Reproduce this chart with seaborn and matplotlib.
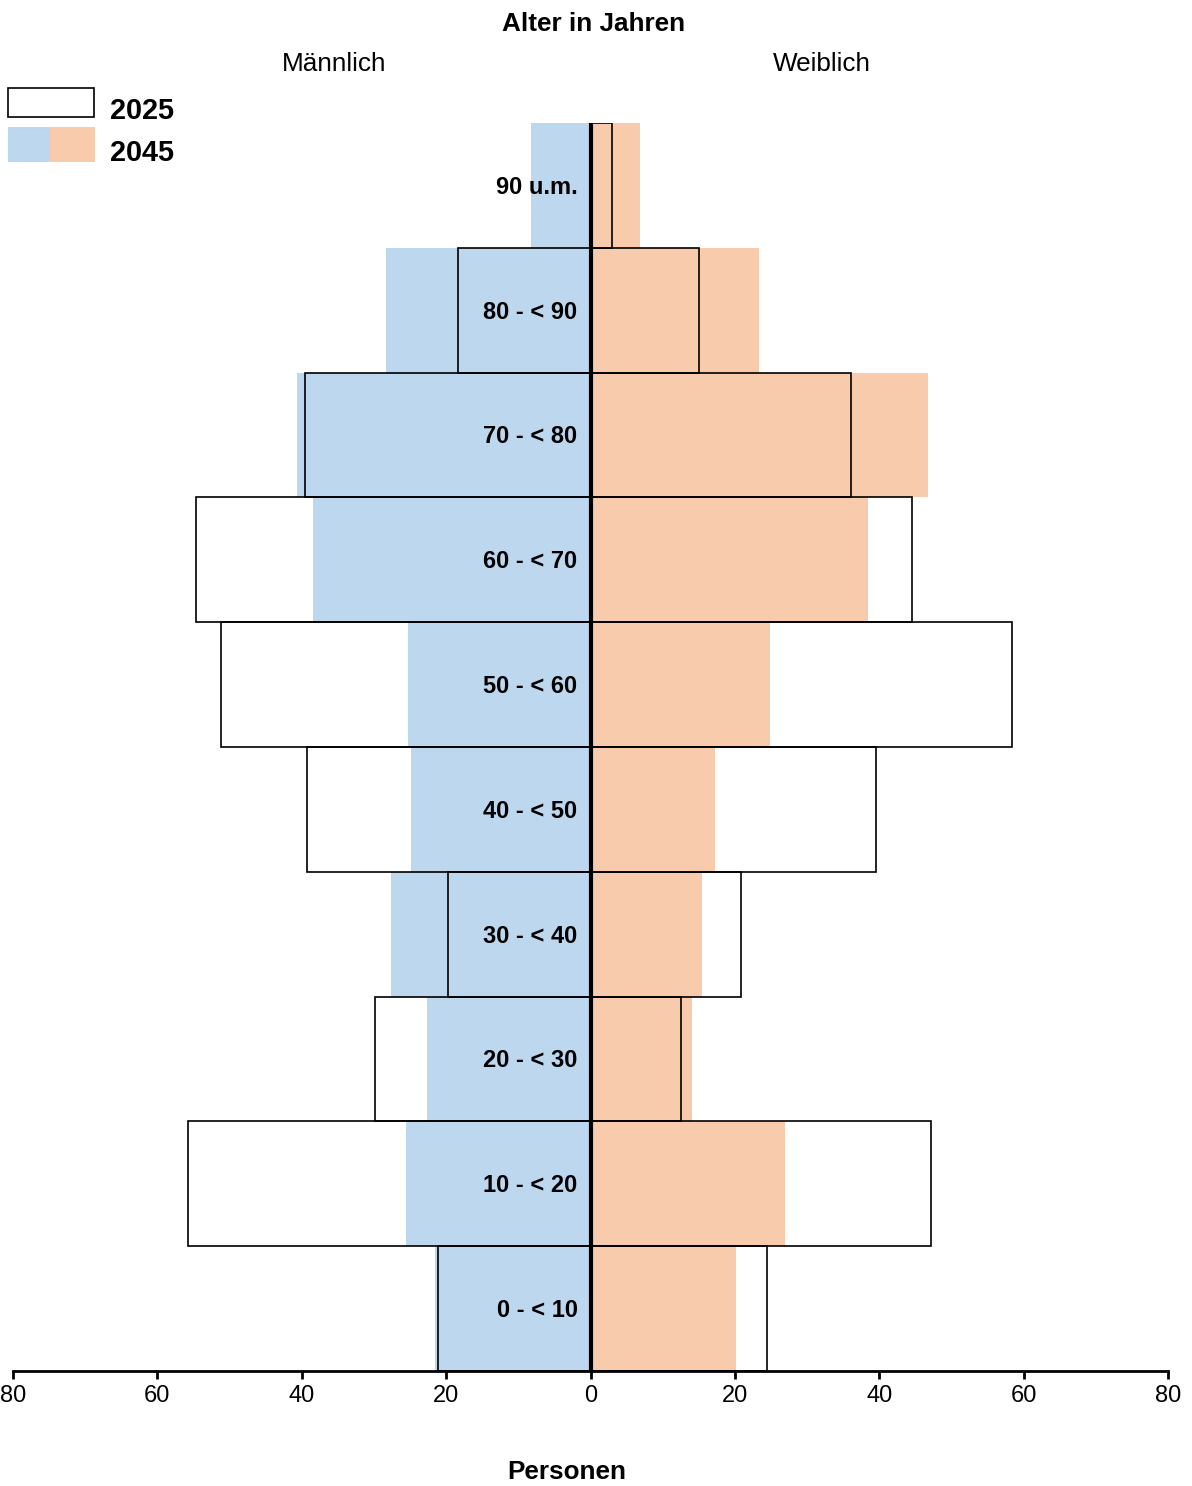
import matplotlib
matplotlib.use("Agg")
import matplotlib.pyplot as plt
from matplotlib.patches import Rectangle
import seaborn as sns
import numpy as np
import pandas as pd

categories = ["90 u.m.", "80 - < 90", "70 - < 80", "60 - < 70", "50 - < 60",
              "40 - < 50", "30 - < 40", "20 - < 30", "10 - < 20", "0 - < 10"]
male_2025 = [0.0, 18.4, 39.6, 54.7, 51.2, 39.3, 19.8, 29.8, 55.7, 21.1]
male_2045 = [8.2, 28.3, 40.6, 38.5, 25.3, 24.9, 27.7, 22.7, 25.5, 21.6]
female_2025 = [3.0, 15.0, 36.1, 44.5, 58.4, 39.5, 20.8, 12.5, 47.2, 24.5]
female_2045 = [6.9, 23.4, 46.8, 38.4, 24.9, 17.2, 15.4, 14.0, 26.9, 20.1]
xticks = [-80, -60, -40, -20, 0, 20, 40, 60, 80]
xticklabels = ["80", "60", "40", "20", "0", "20", "40", "60", "80"]

BLUE = "#BDD7EE"
ORANGE = "#F8CBAD"

sns.set_theme(style="white")
plt.rcParams["font.family"] = ["Liberation Sans", "DejaVu Sans"]
plt.rcParams["text.color"] = "black"
plt.rcParams["axes.labelcolor"] = "black"
plt.rcParams["xtick.color"] = "black"

W, H = 1192, 1486
fig = plt.figure(figsize=(W / 100, H / 100), dpi=100)
ax = fig.add_axes([13 / W, 1 - 1371 / H, (1168 - 13) / W, (1371 - 123) / H])

df = pd.DataFrame({
    "Alter": categories,
    "m25": -np.array(male_2025),
    "m45": -np.array(male_2045),
    "f25": np.array(female_2025),
    "f45": np.array(female_2045),
})

sns.barplot(data=df, x="m45", y="Alter", orient="h", order=categories, width=1.0,
            color=BLUE, saturation=1, linewidth=0, ax=ax)
sns.barplot(data=df, x="f45", y="Alter", orient="h", order=categories, width=1.0,
            color=ORANGE, saturation=1, linewidth=0, ax=ax)
sns.barplot(data=df, x="m25", y="Alter", orient="h", order=categories, width=1.0,
            color="black", fill=False, linewidth=1.2, ax=ax)
sns.barplot(data=df, x="f25", y="Alter", orient="h", order=categories, width=1.0,
            color="black", fill=False, linewidth=1.2, ax=ax)

ax.set_xlim(-80, 80)
ax.set_ylim(len(categories) - 0.5, -0.5)
ax.axvline(0, color="black", lw=3, zorder=5)

for i, c in enumerate(categories):
    ax.text(-1.8, i + 0.015, c, ha="right", va="center", fontsize=17, fontweight="bold",
            color="black", zorder=6)

ax.set_yticks([])
ax.set_ylabel("")
ax.set_xlabel("")
ax.set_xticks(xticks)
ax.set_xticklabels(xticklabels, fontsize=17, color="black")
ax.tick_params(axis="x", direction="out", length=6, width=2, pad=4, bottom=True,
               colors="black", labelcolor="black")
for s in ["top", "left", "right"]:
    ax.spines[s].set_visible(False)
ax.spines["bottom"].set_linewidth(2)
ax.spines["bottom"].set_color("black")

fig.text(594 / W, 1 - 24 / H, "Alter in Jahren", ha="center", va="center",
         fontsize=18.8, fontweight="bold", color="black")
fig.text(334 / W, 1 - 64 / H, "Männlich", ha="center", va="center", fontsize=18.8, color="black")
fig.text(822 / W, 1 - 64 / H, "Weiblich", ha="center", va="center", fontsize=18.8, color="black")
fig.text(567 / W, 1 - 1472 / H, "Personen", ha="center", va="center",
         fontsize=18.8, fontweight="bold", color="black")

# legend
def frect(x0, y0, x1, y1, **kw):
    fig.patches.append(Rectangle((x0 / W, 1 - y1 / H), (x1 - x0) / W, (y1 - y0) / H,
                                 transform=fig.transFigure, figure=fig, **kw))

frect(8, 88, 94, 117, facecolor="white", edgecolor="black", linewidth=1.2)
frect(8, 127, 50, 162, facecolor=BLUE, edgecolor="none")
frect(50, 127, 95, 162, facecolor=ORANGE, edgecolor="none")
fig.text(110 / W, 1 - 111 / H, "2025", ha="left", va="center", fontsize=20.8,
         fontweight="bold", color="black")
fig.text(110 / W, 1 - 153 / H, "2045", ha="left", va="center", fontsize=20.8,
         fontweight="bold", color="black")

fig.savefig("out.png", dpi=100)
